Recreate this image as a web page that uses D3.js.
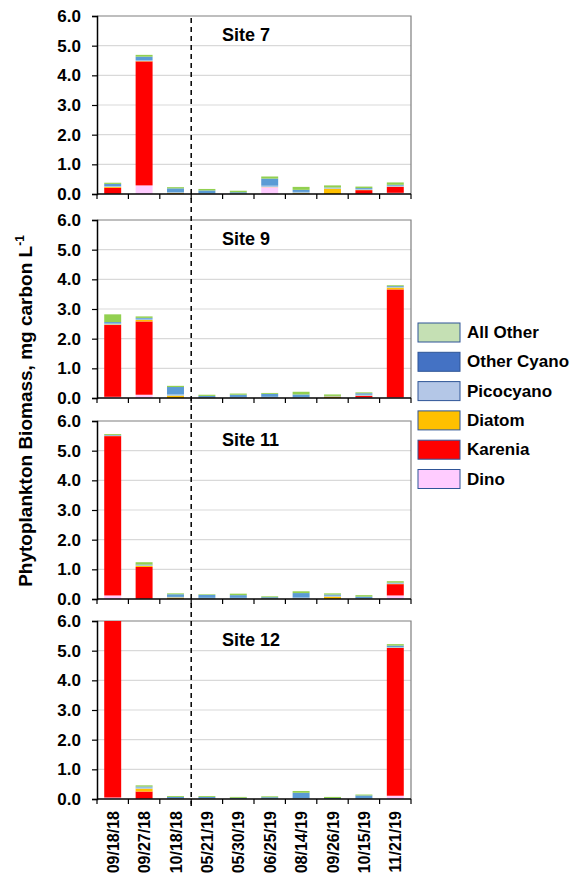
<!DOCTYPE html>
<html lang="en">
<head>
  <meta charset="UTF-8">
  <title>Phytoplankton Biomass</title>
  <style>
    body { margin: 0; background: #fff; }
    svg { display: block; font-family: Arial, "Liberation Sans", sans-serif; }
  </style>
</head>
<body>
  <div id="chart"></div>
  <script src="https://cdn.jsdelivr.net/npm/d3@7"></script>
  <script>
    // sampling dates (x categories)
    const dates = ['09/18/18', '09/27/18', '10/18/18', '05/21/19', '05/30/19',
      '06/25/19', '08/14/19', '09/26/19', '10/15/19', '11/21/19'];
    // stack order, bottom to top
    const groups = ['Dino', 'Karenia', 'Diatom', 'Picocyano', 'Other Cyano', 'All Other'];
    const sites = ['Site 7', 'Site 9', 'Site 11', 'Site 12'];
    const yTicks = [0, 1, 2, 3, 4, 5, 6];

    // mg carbon per L, one array per group, one value per date
    const site7 = {
      'Dino':        [0.01, 0.29, 0.00, 0.00, 0.00, 0.23, 0.01, 0.00, 0.01, 0.04],
      'Karenia':     [0.20, 4.18, 0.01, 0.00, 0.00, 0.00, 0.00, 0.00, 0.12, 0.20],
      'Diatom':      [0.03, 0.01, 0.03, 0.01, 0.01, 0.01, 0.03, 0.18, 0.01, 0.01],
      'Picocyano':   [0.03, 0.03, 0.02, 0.02, 0.02, 0.04, 0.03, 0.03, 0.03, 0.03],
      'Other Cyano': [0.07, 0.12, 0.13, 0.09, 0.03, 0.24, 0.07, 0.01, 0.03, 0.03],
      'All Other':   [0.04, 0.06, 0.04, 0.05, 0.05, 0.07, 0.10, 0.07, 0.05, 0.08]
    };
    const site9 = {
      'Dino':        [0.04, 0.11, 0.00, 0.00, 0.00, 0.00, 0.00, 0.00, 0.02, 0.02],
      'Karenia':     [2.42, 2.47, 0.00, 0.00, 0.00, 0.00, 0.00, 0.00, 0.05, 3.64],
      'Diatom':      [0.02, 0.05, 0.08, 0.01, 0.01, 0.01, 0.01, 0.05, 0.01, 0.06],
      'Picocyano':   [0.03, 0.04, 0.04, 0.01, 0.02, 0.03, 0.02, 0.01, 0.03, 0.02],
      'Other Cyano': [0.05, 0.03, 0.25, 0.05, 0.08, 0.10, 0.09, 0.01, 0.05, 0.03],
      'All Other':   [0.26, 0.05, 0.04, 0.04, 0.04, 0.03, 0.09, 0.05, 0.03, 0.03]
    };
    const site11 = {
      'Dino':        [0.12, 0.01, 0.00, 0.00, 0.00, 0.00, 0.00, 0.00, 0.00, 0.12],
      'Karenia':     [5.37, 1.07, 0.01, 0.00, 0.00, 0.00, 0.00, 0.00, 0.00, 0.38],
      'Diatom':      [0.01, 0.04, 0.04, 0.01, 0.01, 0.01, 0.01, 0.08, 0.01, 0.01],
      'Picocyano':   [0.01, 0.02, 0.02, 0.03, 0.03, 0.01, 0.04, 0.03, 0.02, 0.02],
      'Other Cyano': [0.02, 0.02, 0.09, 0.10, 0.09, 0.04, 0.15, 0.04, 0.05, 0.02],
      'All Other':   [0.03, 0.08, 0.03, 0.02, 0.05, 0.03, 0.06, 0.04, 0.05, 0.05]
    };
    const site12 = {
      'Dino':        [0.05, 0.01, 0.00, 0.00, 0.00, 0.00, 0.00, 0.00, 0.00, 0.11],
      'Karenia':     [6.40, 0.24, 0.00, 0.00, 0.00, 0.00, 0.00, 0.00, 0.00, 4.98],
      'Diatom':      [0.01, 0.10, 0.01, 0.01, 0.00, 0.00, 0.01, 0.00, 0.00, 0.01],
      'Picocyano':   [0.01, 0.04, 0.02, 0.02, 0.01, 0.02, 0.02, 0.00, 0.02, 0.02],
      'Other Cyano': [0.01, 0.03, 0.04, 0.04, 0.03, 0.04, 0.18, 0.03, 0.10, 0.05],
      'All Other':   [0.01, 0.04, 0.03, 0.03, 0.03, 0.03, 0.06, 0.04, 0.03, 0.05]
    };
    const siteData = [site7, site9, site11, site12];

    const barColors = ['#FFCCFF', '#FF0000', '#FFC000', '#9DC3E6', '#5B9BD5', '#92D050'];
    const legendColors = ['#FFCCFF', '#FF0000', '#FFC000', '#B4C7E7', '#4472C4', '#C5E0B4'];

    const width = 583, height = 875;
    const left = 97, right = 411;
    const panelTops = [16, 220, 421, 621];
    const panelH = 178;

    const svg = d3.select('#chart').append('svg')
      .attr('width', width)
      .attr('height', height);

    const x = d3.scaleBand()
      .domain(dates)
      .range([left, right])
      .paddingInner(0.46)
      .paddingOuter(0.23);

    const color = d3.scaleOrdinal().domain(groups).range(barColors);
    const stack = d3.stack().keys(groups);

    siteData.forEach((site, i) => {
      const top = panelTops[i];
      const y = d3.scaleLinear()
        .domain([0, 6])
        .range([top + panelH, top])
        .clamp(true);

      const g = svg.append('g');

      // gridlines
      g.selectAll('.grid')
        .data(yTicks.slice(1, -1))
        .join('line')
        .attr('x1', left).attr('x2', right)
        .attr('y1', d => y(d)).attr('y2', d => y(d))
        .attr('stroke', '#d9d9d9')
        .attr('stroke-width', 1.2);

      // frame top / right
      g.append('path')
        .attr('d', `M${left},${y(6)}H${right}V${y(0)}`)
        .attr('fill', 'none')
        .attr('stroke', '#7f7f7f')
        .attr('stroke-width', 1.2);

      const rows = dates.map((d, j) => {
        const r = { date: d };
        groups.forEach(k => { r[k] = site[k][j]; });
        return r;
      });

      g.selectAll('.layer')
        .data(stack(rows))
        .join('g')
        .attr('fill', d => color(d.key))
        .selectAll('rect')
        .data(d => d)
        .join('rect')
        .attr('x', d => x(d.data.date))
        .attr('width', x.bandwidth())
        .attr('y', d => y(d[1]))
        .attr('height', d => y(d[0]) - y(d[1]));

      // y axis
      const yAxis = g.append('g')
        .attr('transform', `translate(${left},0)`)
        .call(d3.axisLeft(y).tickValues(yTicks).tickFormat(d3.format('.1f')).tickSize(5).tickPadding(11));
      yAxis.select('.domain').attr('stroke', '#000').attr('stroke-width', 1.5);
      yAxis.selectAll('.tick line').attr('stroke', '#000').attr('stroke-width', 1.2);
      yAxis.selectAll('text')
        .attr('font-size', 17)
        .attr('font-weight', 'bold')
        .attr('fill', '#000');

      // x axis: ticks between categories
      const xb = g.append('g');
      xb.append('line')
        .attr('x1', left).attr('x2', right)
        .attr('y1', y(0)).attr('y2', y(0))
        .attr('stroke', '#000').attr('stroke-width', 1.5);
      xb.selectAll('.xt')
        .data(d3.range(dates.length + 1))
        .join('line')
        .attr('x1', d => left + d * x.step())
        .attr('x2', d => left + d * x.step())
        .attr('y1', y(0)).attr('y2', y(0) + 5)
        .attr('stroke', '#000').attr('stroke-width', 1.2);

      g.append('text')
        .attr('x', 222)
        .attr('y', top + 25)
        .attr('font-size', 18)
        .attr('font-weight', 'bold')
        .text(sites[i]);
    });

    // date labels under last panel
    const lastBottom = panelTops[3] + panelH;
    svg.append('g')
      .selectAll('text')
      .data(dates)
      .join('text')
      .attr('transform', d => `translate(${x(d) + x.bandwidth() / 2 + 6},${lastBottom + 12}) rotate(-90)`)
      .attr('text-anchor', 'end')
      .attr('font-size', 16)
      .attr('font-weight', 'bold')
      .text(d => d);

    // 2018 / 2019 divider
    const divX = left + 3 * x.step();
    svg.append('line')
      .attr('x1', divX).attr('x2', divX)
      .attr('y1', panelTops[0] + 2).attr('y2', lastBottom + 11)
      .attr('stroke', '#000')
      .attr('stroke-width', 1.5)
      .attr('stroke-dasharray', '5,4');

    // y title
    svg.append('text')
      .attr('transform', 'translate(32,411) rotate(-90)')
      .attr('text-anchor', 'middle')
      .attr('font-size', 19)
      .attr('font-weight', 'bold')
      .text('Phytoplankton Biomass, mg carbon L')
      .append('tspan')
      .attr('dy', -8)
      .attr('font-size', 12)
      .text('-1');

    // legend, top to bottom reversed from the stack
    const legendOrder = groups.slice().reverse();
    const lg = svg.append('g').attr('transform', 'translate(418,323)');
    const item = lg.selectAll('g')
      .data(legendOrder)
      .join('g')
      .attr('transform', (d, i) => `translate(0,${i * 29.3})`);
    item.append('rect')
      .attr('width', 42)
      .attr('height', 19)
      .attr('fill', d => legendColors[groups.indexOf(d)])
      .attr('stroke', '#2F5597')
      .attr('stroke-width', 1);
    item.append('text')
      .attr('x', 49)
      .attr('y', 15)
      .attr('font-size', 17)
      .attr('font-weight', 'bold')
      .text(d => d);
  </script>
</body>
</html>
